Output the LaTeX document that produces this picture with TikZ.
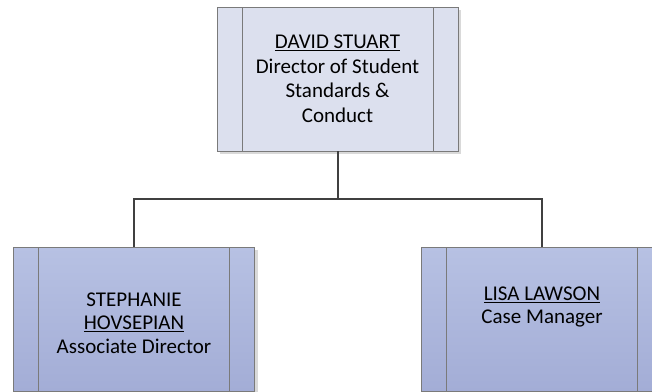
\documentclass[tikz,border=0pt]{standalone}
\usepackage{fontspec}
\setmainfont{Carlito}
\usetikzlibrary{shadows}
\definecolor{topfill}{HTML}{DCE0EE}
\definecolor{subtop}{HTML}{B7C1E3}
\definecolor{subbot}{HTML}{A3ADD6}
\definecolor{boxline}{HTML}{7A7A7A}
\definecolor{conn}{HTML}{404040}
\tikzset{
  orgbox/.style={draw=boxline, line width=0.9bp, minimum width=241bp, minimum height=144bp,
    inner sep=0pt, align=center,
    drop shadow={shadow xshift=3bp, shadow yshift=-3bp, fill=black!25, opacity=0.6},
    path picture={
      \draw[boxline, line width=0.9bp]
        ([xshift=25bp]path picture bounding box.north west) -- ([xshift=25bp]path picture bounding box.south west)
        ([xshift=-25bp]path picture bounding box.north east) -- ([xshift=-25bp]path picture bounding box.south east);
    }},
  topbox/.style={orgbox, fill=topfill, font=\fontsize{21bp}{24.5bp}\selectfont},
  subbox/.style={orgbox, top color=subtop, bottom color=subbot},
  boxtext/.style={align=center, inner sep=0pt, font=\fontsize{21bp}{23.5bp}\selectfont},
  connector/.style={draw=conn, line width=2bp}
}
\begin{document}
\begin{tikzpicture}[x=1bp,y=-1bp]
\useasboundingbox (0,0) rectangle (652,391);
\clip (0,0) rectangle (652,391);
\node[topbox] (ds) at (337.5,79) {\underline{DAVID STUART}\\Director of Student\\Standards \&\\Conduct};
\node[subbox] (sh) at (134,319) {};
\node[subbox] (ll) at (542,319) {};
\node[boxtext] (shtext) at (134,323) {STEPHANIE\\\underline{HOVSEPIAN}\\Associate Director};
\node[boxtext] (lltext) at (542,307) {\underline{LISA LAWSON}\\Case Manager};
\coordinate (bus) at (337.5,199);
\draw[connector] (ds.south) -- (bus);
\draw[connector] (bus) -| (sh.north);
\draw[connector] (bus) -| (ll.north);
\end{tikzpicture}
\end{document}
